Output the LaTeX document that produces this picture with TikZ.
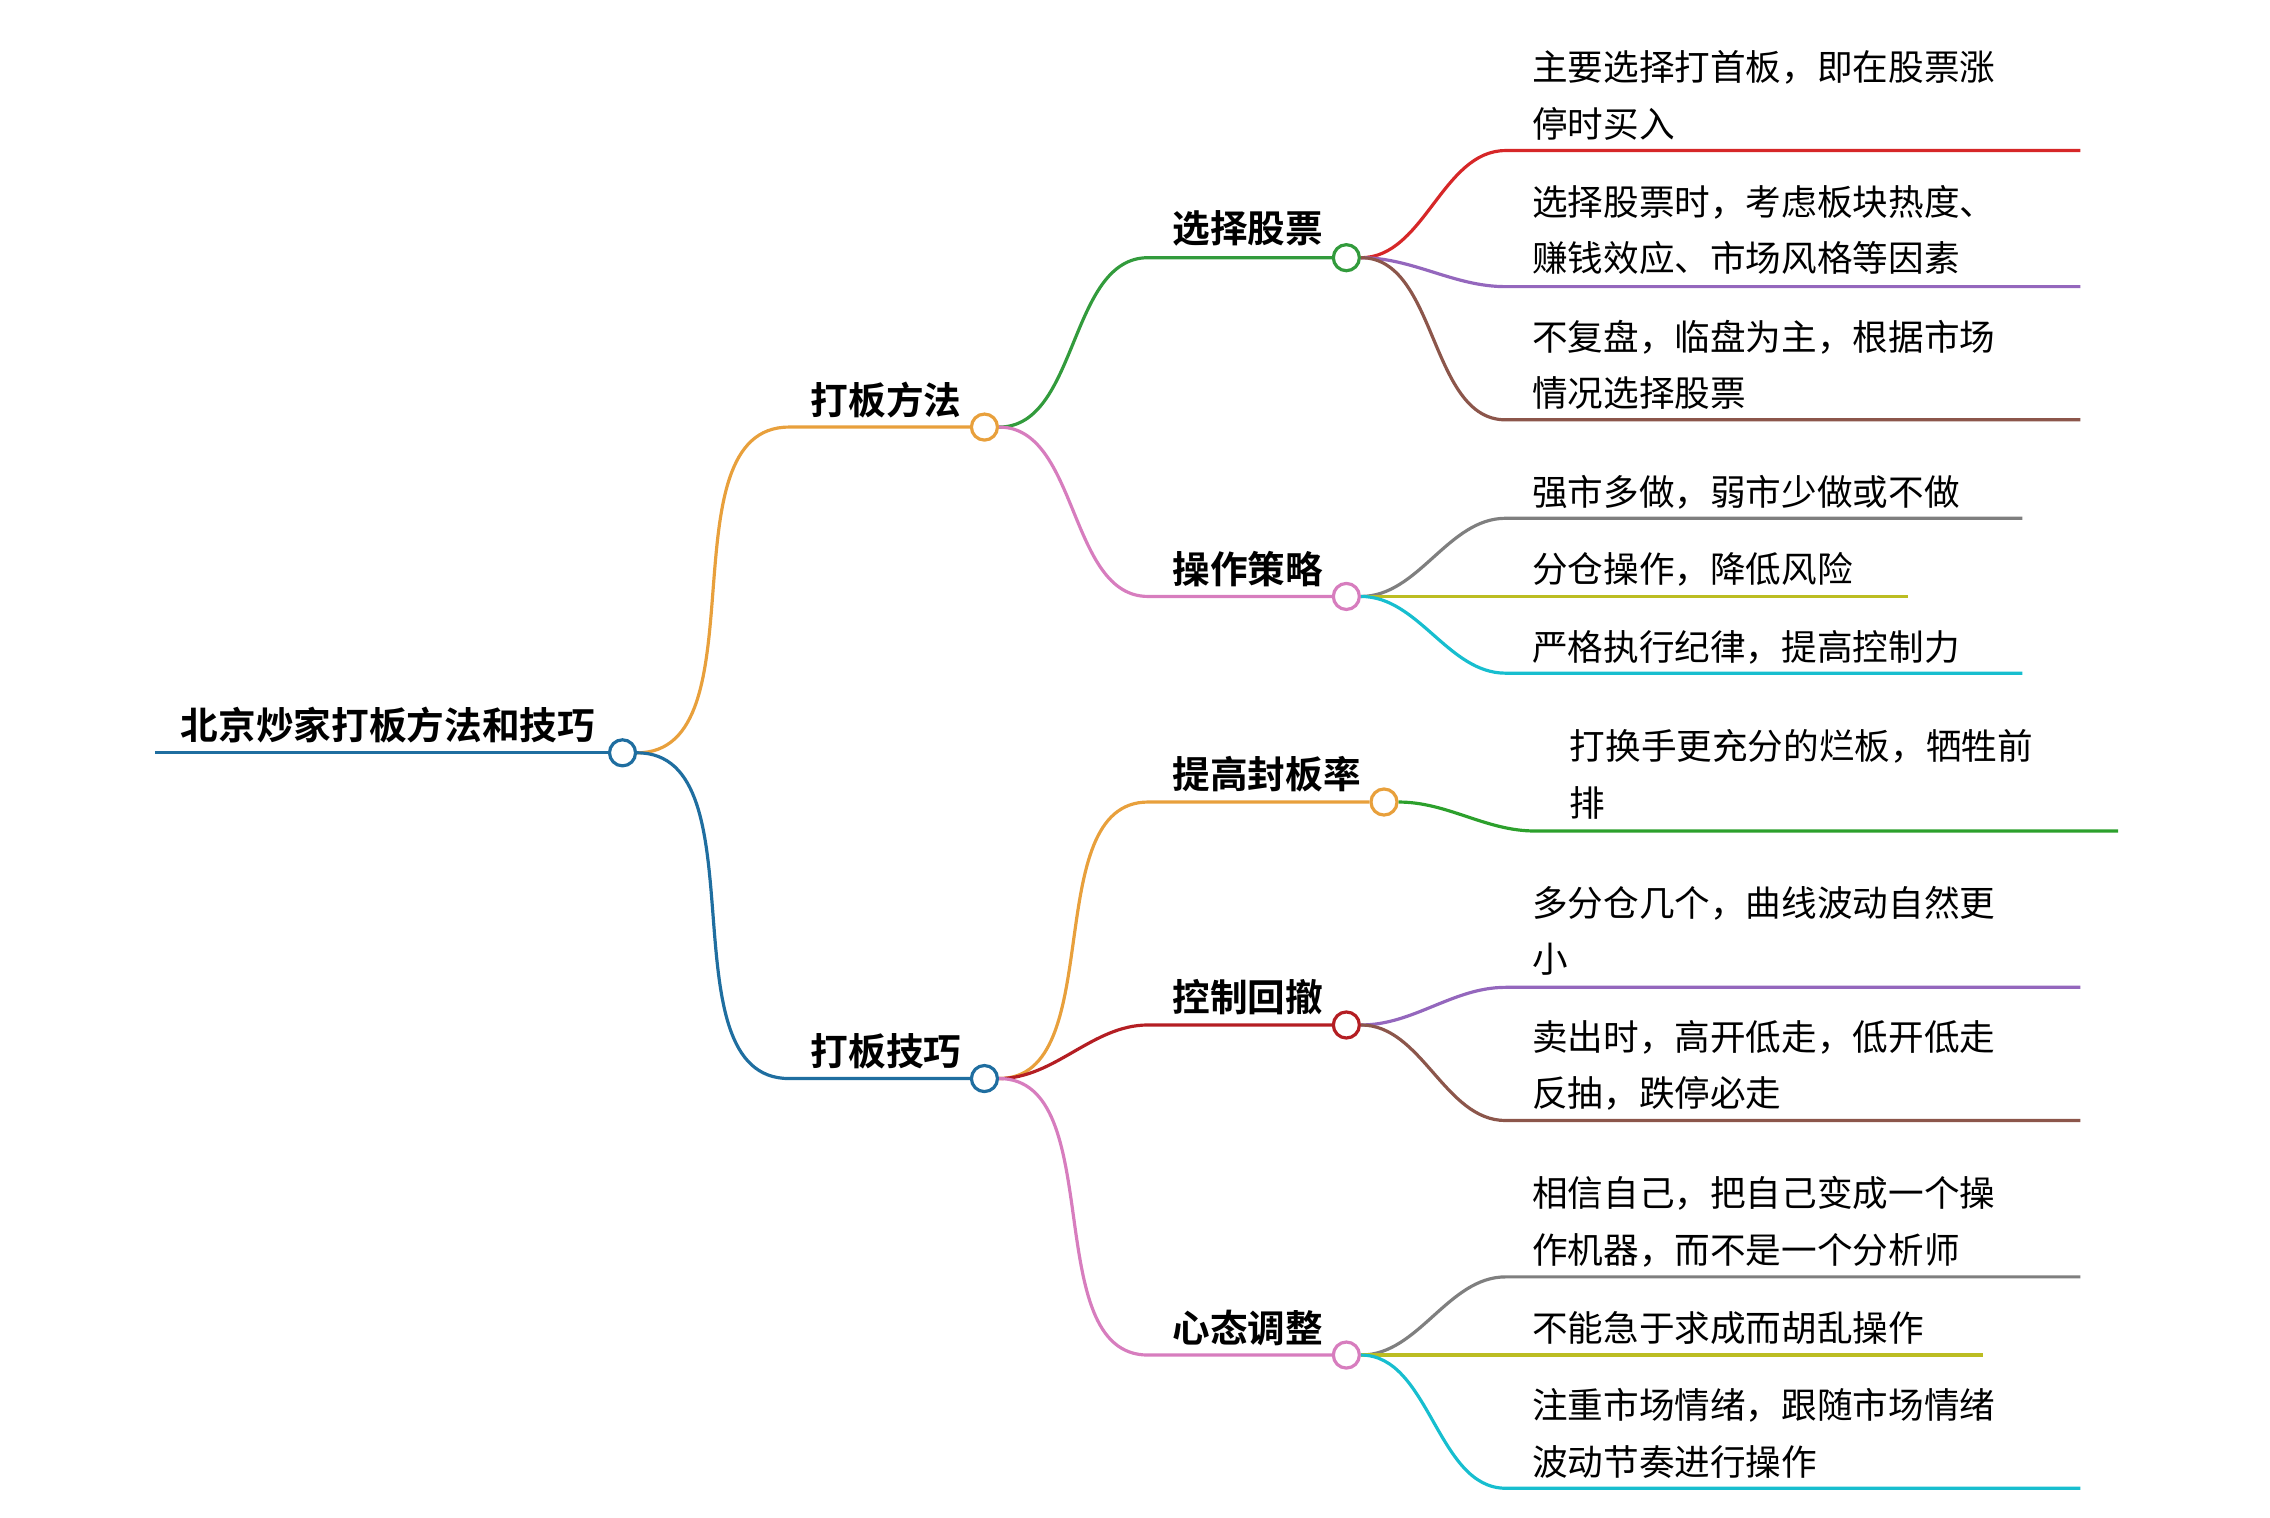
\documentclass[tikz,border=0pt]{standalone}
\usepackage{fontspec}
\setmainfont{Noto Sans CJK SC}
\newfontfamily\cjkb{Noto Sans CJK SC Bold}
\definecolor{cblue}{RGB}{31,110,160}
\definecolor{corange}{RGB}{232,160,60}
\definecolor{cgreen}{RGB}{50,155,60}
\definecolor{cpink}{RGB}{215,125,190}
\definecolor{cdred}{RGB}{180,30,35}
\definecolor{lred}{RGB}{214,39,40}
\definecolor{lpurple}{RGB}{148,103,189}
\definecolor{lbrown}{RGB}{140,86,75}
\definecolor{lgray}{RGB}{127,127,127}
\definecolor{lolive}{RGB}{188,189,34}
\definecolor{lcyan}{RGB}{23,190,207}
\definecolor{lgreen}{RGB}{44,160,44}
\begin{document}
\begin{tikzpicture}[x=0.5pt,y=-0.5pt,
  dot/.style={circle,draw=#1,fill=white,line width=1.1pt,minimum size=9pt,inner sep=0pt},
  lbl/.style={font=\cjkb\fontsize{13}{15}\selectfont,inner sep=0pt},
  leaf/.style={font=\fontsize{12.3}{19.5}\selectfont,anchor=west,align=left,inner sep=0pt},
  ln/.style={line width=1.1pt,#1}]
\useasboundingbox (0,0) rectangle (1568,1048);
% root
\coordinate (r0) at (107,520);
\node[dot=cblue] (r) at (430,520) {};
\draw[ln=cblue] (r0) -- (r.west);
\node[lbl] (rt) at (268,501) {北京炒家打板方法和技巧};
% level 1
\node[dot=corange] (a) at (680,295) {};
\node[dot=cblue] (b) at (680,745) {};
\coordinate (as) at (545,295); \coordinate (bs) at (545,745);
\draw[ln=corange] (r.east) to[out=0,in=180,looseness=0.9] (as) -- (a.west);
\draw[ln=cblue] (r.east) to[out=0,in=180,looseness=0.9] (bs) -- (b.west);
\node[lbl] at (612,276) {打板方法};
\node[lbl] at (612,726) {打板技巧};
% level 2
\node[dot=cgreen] (a1) at (930,178) {};
\node[dot=cpink] (a2) at (930,412) {};
\node[dot=corange] (b1) at (956,554) {};
\node[dot=cdred] (b2) at (930,708) {};
\node[dot=cpink] (b3) at (930,936) {};
\coordinate (a1s) at (793,178); \coordinate (a2s) at (793,412);
\coordinate (b1s) at (793,554); \coordinate (b2s) at (793,708); \coordinate (b3s) at (793,936);
\draw[ln=cgreen] (a.east) to[out=0,in=180,looseness=0.9] (a1s) -- (a1.west);
\draw[ln=cpink] (a.east) to[out=0,in=180,looseness=0.9] (a2s) -- (a2.west);
\draw[ln=corange] (b.east) to[out=0,in=180,looseness=0.9] (b1s) -- (b1.west);
\draw[ln=cdred] (b.east) to[out=0,in=180,looseness=0.9] (b2s) -- (b2.west);
\draw[ln=cpink] (b.east) to[out=0,in=180,looseness=0.9] (b3s) -- (b3.west);
\node[lbl] at (862,158) {选择股票};
\node[lbl] at (862,393) {操作策略};
\node[lbl] at (875,535) {提高封板率};
\node[lbl] at (862,689) {控制回撤};
\node[lbl] at (862,917) {心态调整};
% leaves
\newcommand\leafline[6]{% parent, y, endx, color, name, startx
  \coordinate (#5s) at (#6,#2); \coordinate (#5e) at (#3,#2);
  \draw[ln=#4] (#1.east) to[out=0,in=180,looseness=0.9] (#5s) -- (#5e);}
\leafline{a1}{104}{1437}{lred}{l1}{1040}
\leafline{a1}{198}{1437}{lpurple}{l2}{1040}
\leafline{a1}{290}{1437}{lbrown}{l3}{1040}
\leafline{a2}{358}{1397}{lgray}{l4}{1040}
\leafline{a2}{412}{1318}{lolive}{l5}{1040}
\leafline{a2}{465}{1397}{lcyan}{l6}{1040}
\leafline{b1}{574}{1463}{lgreen}{l7}{1060}
\leafline{b2}{682}{1437}{lpurple}{l8}{1040}
\leafline{b2}{774}{1437}{lbrown}{l9}{1040}
\leafline{b3}{882}{1437}{lgray}{l10}{1040}
\leafline{b3}{936}{1370}{lolive}{l11}{1040}
\leafline{b3}{1028}{1437}{lcyan}{l12}{1040}
\node[leaf] at (1058,66) {主要选择打首板，即在股票涨\\停时买入};
\node[leaf] at (1058,159) {选择股票时，考虑板块热度、\\赚钱效应、市场风格等因素};
\node[leaf] at (1058,252) {不复盘，临盘为主，根据市场\\情况选择股票};
\node[leaf] at (1058,340) {强市多做，弱市少做或不做};
\node[leaf] at (1058,393) {分仓操作，降低风险};
\node[leaf] at (1058,447) {严格执行纪律，提高控制力};
\node[leaf] at (1084,535) {打换手更充分的烂板，牺牲前\\排};
\node[leaf] at (1058,643) {多分仓几个，曲线波动自然更\\小};
\node[leaf] at (1058,736) {卖出时，高开低走，低开低走\\反抽，跌停必走};
\node[leaf] at (1058,844) {相信自己，把自己变成一个操\\作机器，而不是一个分析师};
\node[leaf] at (1058,917) {不能急于求成而胡乱操作};
\node[leaf] at (1058,990) {注重市场情绪，跟随市场情绪\\波动节奏进行操作};
\end{tikzpicture}
\end{document}
